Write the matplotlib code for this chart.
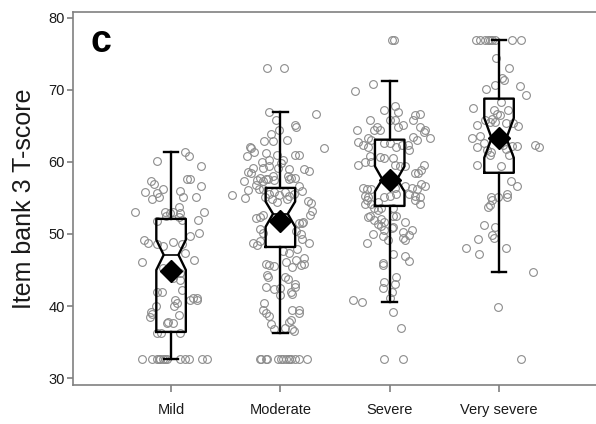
import numpy as np
import matplotlib
matplotlib.use("Agg")
import matplotlib.pyplot as plt

plt.rcParams['font.family'] = ['Liberation Sans', 'DejaVu Sans']

groups = ["Mild", "Moderate", "Severe", "Very severe"]

# box statistics per group
q1 = [36.4, 48.2, 53.9, 58.5]
median = [47.1, 52.8, 57.6, 63.3]
q3 = [52.1, 56.4, 63.1, 68.8]
whislo = [32.6, 36.3, 40.6, 44.7]
whishi = [61.4, 66.9, 71.2, 77.0]
ci_lo = [45.0, 51.0, 55.9, 60.6]
ci_hi = [49.2, 54.5, 59.4, 66.1]
means = [44.9, 51.8, 57.5, 63.3]

# individual scores (value, horizontal jitter)
mild_y = [60.2, 61.4, 60.8, 59.4, 55.8, 57.3, 56.9, 55.7, 56.2, 54.8, 55.2, 56.0,
          55.2, 57.7, 57.7, 55.2, 56.6, 53.8, 53.1, 52.9, 52.9, 53.1, 53.1, 51.8,
          52.5, 53.0, 52.3, 51.9, 52.0, 50.2, 49.7, 49.2, 48.8, 48.6, 48.4, 48.9,
          48.6, 47.4, 46.1, 46.4, 45.3, 44.6, 43.9, 43.6, 42.2, 42.0, 42.0, 40.9,
          40.9, 40.9, 40.0, 40.0, 38.9, 38.75, 37.6, 37.6, 36.3, 36.3, 36.3,
          39.2, 38.5, 40.4, 37.8, 41.1, 41.1,
          32.6, 32.6, 32.6, 32.6, 32.6, 32.6, 32.6, 32.6, 32.6, 32.6, 32.6, 32.6, 32.6]
mild_dx = [-0.13, 0.13, 0.16, 0.27, -0.24, -0.18, -0.16, -0.13, -0.07, -0.17, -0.11, 0.08,
           0.11, 0.15, 0.17, 0.23, 0.27, 0.07, -0.06, -0.01, 0.08, 0.30, -0.33, -0.13,
           -0.05, 0.02, 0.07, 0.10, 0.25, 0.26, 0.17, -0.25, -0.21, -0.13, -0.07, 0.02,
           0.10, 0.13, -0.27, 0.21, -0.07, 0.08, 0.02, 0.08, 0.10, -0.13, -0.08, 0.04,
           0.17, 0.24, -0.14, 0.03, -0.17, 0.07, -0.04, 0.02, -0.13, -0.09, 0.08,
           -0.18, -0.19, 0.05, -0.03, 0.20, 0.24,
           -0.27, -0.17, -0.13, -0.11, -0.10, -0.07, -0.06, -0.04, 0.08, 0.13, 0.16, 0.28, 0.33]

moderate_y = [73.1, 73.1, 66.9, 66.6, 65.8, 65.1, 64.9, 64.4, 63.9, 62.9, 62.9, 63.0,
              62.0, 62.0, 60.8, 61.4, 61.2, 60.3, 61.0, 60.3, 59.9, 61.0, 61.0, 59.2,
              59.2, 59.4, 59.2, 59.0, 59.0, 58.7, 58.5, 57.8, 57.7, 58.0, 58.0, 57.8,
              57.5, 57.4, 57.6, 57.5, 57.7, 57.8, 56.8, 56.3, 56.3, 56.6, 56.0, 55.4,
              55.0, 54.6, 54.3,
              55.6, 55.9, 55.4, 55.8, 55.3, 54.8, 54.5, 54.9, 55.5, 55.2,
              52.2, 52.4, 52.6, 52.6, 51.5, 51.5, 50.7, 50.1, 50.4, 48.7, 48.5, 49.0,
              49.3, 48.7, 47.7, 47.4, 45.9, 45.7, 45.5, 46.1, 46.4, 45.7, 46.7, 44.3,
              44.0, 44.0, 43.8, 42.7, 42.3, 42.5, 41.5, 42.0, 43.0, 40.4, 39.5, 39.0,
              38.6, 39.4, 39.0, 37.8, 38.0, 37.5, 36.8, 37.0, 36.8, 36.5,
              53.2, 51.7, 50.0, 47.9, 45.4, 45.8, 42.6, 41.7, 39.5,
              62.1, 60.0, 58.6, 57.4, 56.1,
              32.6, 32.6, 32.6, 32.6, 32.6, 32.6, 32.6, 32.6, 32.6, 32.6, 32.6, 32.6,
              32.6, 32.6]
moderate_dx = [-0.12, 0.03, -0.10, 0.33, -0.04, 0.13, 0.14, -0.01, -0.09, -0.15, -0.07, 0.06,
               0.40, -0.27, -0.31, -0.24, -0.13, -0.10, -0.03, 0.02, 0.01, 0.13, 0.17, -0.25,
               -0.16, -0.10, -0.02, 0.08, 0.22, 0.26, -0.27, -0.19, -0.13, -0.07, 0.07, 0.10,
               -0.21, -0.16, -0.11, -0.06, 0.08, 0.13, -0.22, -0.20, -0.16, 0.17, 0.20, -0.44,
               -0.32, 0.25, 0.28,
               -0.10, -0.06, -0.01, 0.04, 0.08, -0.08, -0.03, 0.06, 0.12, -0.14,
               -0.22, -0.19, -0.16, 0.27, 0.17, 0.20, -0.19, -0.16, 0.14, -0.25, -0.21, -0.19,
               0.20, 0.26, 0.02, 0.08, -0.13, -0.10, -0.06, 0.05, 0.14, 0.19, 0.22, -0.12,
               -0.11, 0.04, 0.07, -0.13, -0.06, 0.00, 0.00, 0.10, 0.13, -0.15, -0.16, -0.13,
               -0.10, 0.11, 0.17, 0.08, 0.10, -0.09, -0.06, 0.04, 0.11, 0.12,
               0.29, 0.21, 0.19, 0.15, 0.11, 0.22, 0.13, 0.11, 0.17,
               -0.28, -0.17, -0.30, -0.33, -0.30,
               -0.19, -0.18, -0.13, -0.12, -0.02, 0.01, 0.02, 0.05, 0.08, 0.08, 0.10, 0.13,
               0.17, 0.24]

severe_y = [77.0, 77.0, 70.8, 69.9, 67.2, 67.8, 66.9, 66.5, 66.6, 65.9, 65.9, 65.9,
            65.8, 64.9, 65.1, 64.9, 64.4, 64.5, 64.9, 64.4, 64.2, 64.5, 63.3, 63.3,
            63.1, 63.5, 63.1, 62.8, 62.4, 62.1, 62.6, 62.6, 62.1, 62.4, 62.4, 61.7,
            60.9, 60.7, 60.5, 60.5, 60.0, 60.0, 59.6, 59.6, 59.4, 59.4, 59.6, 58.5,
            58.5, 58.9, 56.4, 56.2, 56.2, 56.4, 56.6, 56.4, 56.2, 56.9, 56.7, 55.3,
            55.1, 55.1, 55.3, 55.6, 55.6, 55.3, 55.1, 54.7, 54.2, 54.5, 54.7, 54.2,
            54.1, 53.6, 53.3, 53.6, 53.6, 52.5, 52.3, 52.0, 52.1, 52.5, 52.5, 51.4,
            51.6, 51.1, 51.7, 51.0, 50.6, 50.8, 50.6, 49.9, 50.3, 50.0, 49.7, 49.2,
            49.4, 49.2, 48.7, 47.2, 47.0, 46.0, 45.7, 46.2, 44.0, 43.1, 43.4, 42.5,
            42.0, 40.9, 40.6, 41.1, 39.2, 37.0, 32.6, 32.6]
severe_dx = [0.02, 0.04, -0.15, -0.32, -0.05, 0.05, 0.08, 0.23, 0.28, 0.21, -0.18, 0.00,
             0.05, 0.08, 0.12, -0.12, -0.09, -0.14, 0.28, 0.32, 0.31, -0.30, 0.37, -0.20,
             -0.17, 0.21, 0.25, -0.29, -0.24, -0.20, -0.05, 0.00, 0.06, 0.11, 0.17, 0.18,
             -0.18, -0.09, -0.05, 0.03, -0.23, -0.17, -0.29, 0.05, 0.09, 0.14, 0.31, 0.23,
             0.26, 0.29, -0.24, -0.21, -0.17, 0.05, 0.14, 0.20, 0.25, 0.29, 0.32, -0.23,
             -0.20, -0.05, 0.00, 0.06, 0.18, 0.23, 0.28, -0.21, -0.17, -0.11, 0.23, 0.28,
             -0.23, -0.14, -0.11, -0.08, 0.03, -0.18, -0.20, -0.14, -0.08, 0.03, 0.06, -0.11,
             -0.05, -0.08, 0.14, 0.03, -0.05, 0.02, 0.20, 0.18, 0.12, -0.15, -0.06, 0.14,
             0.12, -0.02, -0.21, 0.03, 0.14, -0.06, -0.06, 0.18, 0.06, 0.05, -0.05, -0.06,
             0.02, -0.34, -0.25, 0.00, 0.03, 0.10, -0.05, 0.12]

very_severe_y = [77.0, 77.0, 77.0, 77.0, 77.0, 77.0, 77.0, 77.0, 77.0,
                 74.4, 73.1, 71.4, 71.6, 70.7, 70.2, 70.5, 69.3, 68.4, 67.5, 67.2, 66.6,
                 66.0, 67.2, 66.5, 65.8, 65.2, 65.6, 65.6, 65.4, 65.4, 65.0, 63.3, 63.6,
                 62.7, 62.1, 62.4, 62.1, 62.2, 62.2, 61.6, 61.4, 61.0, 61.8, 61.0, 62.4,
                 59.6, 59.4, 57.4, 56.7, 55.6, 55.1, 55.1, 55.1, 54.0, 53.8, 54.7, 51.3,
                 51.0, 49.9, 49.5, 49.3, 48.1, 47.2, 48.1, 44.7, 39.8, 32.6]
very_severe_dx = [-0.21, -0.17, -0.13, -0.10, -0.08, -0.06, -0.04, 0.12, 0.20,
                  -0.03, 0.09, 0.05, 0.03, -0.04, -0.12, 0.19, 0.25, 0.02, -0.24, -0.05, -0.02,
                  -0.06, 0.08, 0.01, -0.13, -0.20, -0.08, -0.04, 0.06, 0.13, 0.17, -0.25, -0.17,
                  -0.14, -0.20, 0.33, 0.37, 0.16, 0.12, -0.11, -0.07, -0.08, 0.06, 0.09, 0.04,
                  -0.20, 0.02, 0.11, 0.16, 0.07, -0.07, -0.01, 0.07, -0.08, -0.10, -0.06, -0.14,
                  -0.04, -0.06, -0.05, -0.19, -0.30, -0.18, 0.06, 0.31, -0.01, 0.20]

points_y = [mild_y, moderate_y, severe_y, very_severe_y]
points_dx = [mild_dx, moderate_dx, severe_dx, very_severe_dx]

fig = plt.figure(figsize=(5.96, 4.24), dpi=100)
ax = fig.add_axes([0.1225, 0.092, 0.8775, 0.8797])

pos = np.arange(1, len(groups) + 1)

for p, ys, dxs in zip(pos, points_y, points_dx):
    ax.plot(p + np.array(dxs), ys, 'o', ms=5.6, mfc='none', mec='#8c8c8c',
            mew=0.8, zorder=1)

stats = []
for i, g in enumerate(groups):
    stats.append(dict(label=g, q1=q1[i], med=median[i], q3=q3[i],
                      whislo=whislo[i], whishi=whishi[i],
                      cilo=ci_lo[i], cihi=ci_hi[i], fliers=[]))

line = dict(color='black', linewidth=1.7)
ax.bxp(stats, positions=pos, widths=0.27, shownotches=True, showfliers=False,
       boxprops=line, whiskerprops=line, capprops=line,
       medianprops=dict(color='black', linewidth=1.2), zorder=2)

ax.plot(pos, means, 'D', color='black', ms=11, zorder=3)

ax.set_xlim(0.103, 4.887)
ax.set_ylim(29.03, 80.83)
ax.set_yticks([30, 40, 50, 60, 70, 80])
ax.set_xticks(pos)
ax.set_xticklabels(groups)

for s in ['left', 'bottom', 'top']:
    ax.spines[s].set_color('#808080')
    ax.spines[s].set_linewidth(1.2)
ax.spines['right'].set_visible(False)
ax.tick_params(axis='both', colors='#808080', labelcolor='#1a1a1a',
               labelsize=10.5, width=1.2)
ax.tick_params(axis='y', length=4, pad=2)
ax.tick_params(axis='x', length=5, pad=8)

ax.set_ylabel('Item bank 3 T-score', fontsize=18, color='#1a1a1a', labelpad=9)
ax.text(0.034, 0.893, 'c', transform=ax.transAxes, fontsize=27,
        fontweight='bold', va='baseline', ha='left')

fig.savefig('out.png', dpi=100)
